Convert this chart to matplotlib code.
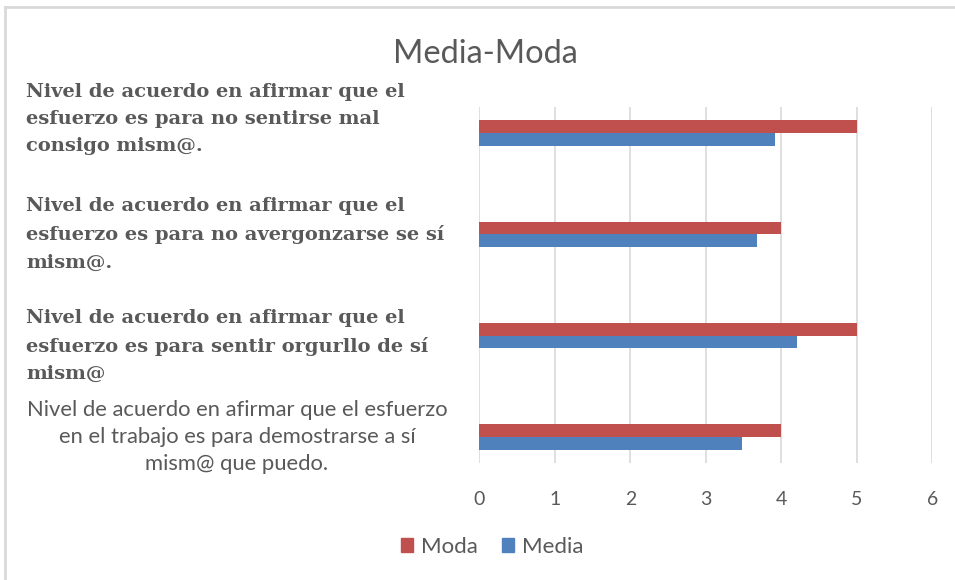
import numpy as np
import matplotlib.pyplot as plt
from matplotlib.lines import Line2D
from matplotlib.patches import Patch
import matplotlib.transforms as mtransforms

# categories listed bottom to top (as drawn by barh)
categorias = [
    "Nivel de acuerdo en afirmar que el esfuerzo\nen el trabajo es para demostrarse a sí\nmism@ que puedo.",
    "Nivel de acuerdo en afirmar que el\nesfuerzo es para sentir orgurllo de sí\nmism@",
    "Nivel de acuerdo en afirmar que el\nesfuerzo es para no avergonzarse se sí\nmism@.",
    "Nivel de acuerdo en afirmar que el\nesfuerzo es para no sentirse mal\nconsigo mism@.",
]
media = [3.48, 4.21, 3.68, 3.92]
moda = [4, 5, 4, 5]
xticks = [0, 1, 2, 3, 4, 5, 6]

c_moda = '#C0504D'
c_media = '#4F81BD'
gris = '#595959'

W, H = 955, 580
fig = plt.figure(figsize=(W / 100, H / 100), dpi=100)
ax = fig.add_axes([479.3 / W, 1 - 463 / H, 453 / W, 356 / H])

y = np.arange(len(categorias))
h = 0.125
ax.barh(y + h / 2, moda, height=h, color=c_moda, label='Moda', zorder=3)
ax.barh(y - h / 2, media, height=h, color=c_media, label='Media', zorder=3)

ax.set_xlim(0, 6)
ax.set_ylim(-0.257, 3.257)
ax.set_xticks(xticks)
ax.set_xticklabels([str(t) for t in xticks], fontsize=14, color=gris, family='Lato')
ax.tick_params(axis='x', length=0, pad=20)
ax.set_yticks([])
ax.grid(axis='x', color='#D9D9D9', linewidth=1.2, zorder=0)
for s in ax.spines.values():
    s.set_visible(False)

# category labels
trans = mtransforms.blended_transform_factory(fig.transFigure, ax.transData)
offs = [0, -0.1, 0.0, 0.14]
for i, lab in enumerate(categorias):
    if i == 0:
        ax.text(237 / W, y[i], lab, transform=trans, ha='center', va='center',
                multialignment='center', fontsize=15.8, color=gris, family='Lato',
                linespacing=1.42)
    else:
        ax.text(26 / W, y[i] + offs[i], lab, transform=trans, ha='left', va='center',
                fontsize=14, color=gris, family='DejaVu Serif', weight='bold',
                linespacing=1.66)

fig.text(485 / W, 1 - 54 / H, 'Media-Moda', ha='center', va='center',
         fontsize=23.5, color=gris, family='Lato')

handles = [Patch(color=c_moda), Patch(color=c_media)]
fig.legend(handles, ['Moda', 'Media'], loc='center', bbox_to_anchor=(492 / W, 1 - 547 / H),
           ncol=2, frameon=False, handlelength=0.55, handleheight=0.55, handletextpad=0.35,
           columnspacing=1.1, prop={'family': 'Lato', 'size': 16}, labelcolor=gris)

# chart border (left and top edges visible)
fig.add_artist(Line2D([5 / W, 5 / W], [0, 1 - 7 / H], transform=fig.transFigure,
                      color='#D9D9D9', linewidth=2))
fig.add_artist(Line2D([5 / W, 1], [1 - 7 / H, 1 - 7 / H], transform=fig.transFigure,
                      color='#D9D9D9', linewidth=2))

fig.savefig('out.png', dpi=100)
